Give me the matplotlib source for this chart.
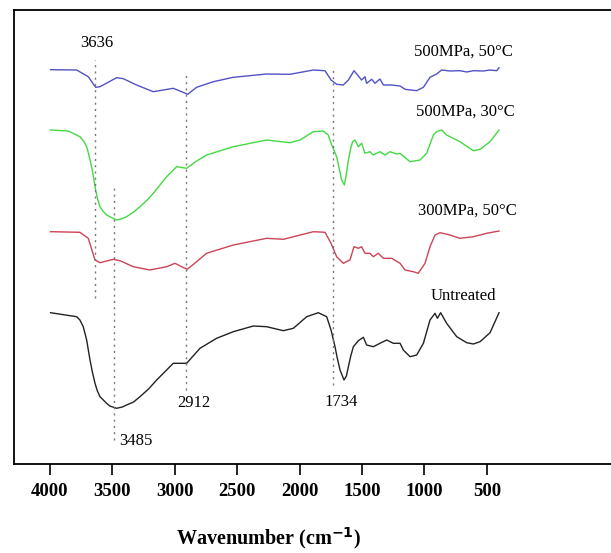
import matplotlib.pyplot as plt

plt.rcParams['font.family'] = ['Liberation Serif', 'DejaVu Serif']

# wavenumber (cm-1) and transmittance (a.u., offset stacked)
wn_blue = [3995, 3786, 3693, 3634, 3599, 3466, 3412, 3306, 3172, 3012, 2945, 2897, 2825, 2691,
           2531, 2264, 2077, 1890, 1796, 1748, 1703, 1650, 1609, 1564, 1529, 1503, 1476, 1463,
           1422, 1396, 1356, 1329, 1262, 1195, 1155, 1062, 1008, 955, 902, 862, 795, 715, 661,
           608, 528, 474, 421, 402]
t_blue = [394.3, 394.0, 387.3, 376.7, 377.3, 386.3, 385.3, 379.0, 372.3, 375.7, 372.3, 369.7,
          376.7, 382.3, 386.7, 390.0, 389.7, 394.0, 393.3, 384.0, 379.7, 379.0, 384.0, 393.3,
          388.0, 384.0, 387.3, 380.7, 384.7, 380.7, 385.0, 379.0, 379.0, 378.0, 374.7, 373.3,
          376.7, 386.7, 390.0, 394.0, 393.0, 393.3, 392.0, 393.3, 393.0, 394.0, 393.3, 396.3]

wn_green = [3995, 3853, 3760, 3730, 3706, 3690, 3666, 3650, 3634, 3616, 3599, 3570, 3546, 3500,
            3466, 3430, 3386, 3330, 3279, 3220, 3172, 3065, 2985, 2905, 2825, 2745, 2531, 2264,
            2077, 1997, 1890, 1810, 1770, 1748, 1703, 1690, 1663, 1641, 1625, 1609, 1590, 1575,
            1556, 1529, 1503, 1476, 1436, 1409, 1356, 1316, 1276, 1222, 1195, 1115, 1035, 982,
            928, 902, 862, 822, 715, 608, 554, 474, 402]
t_green = [334.0, 333.0, 327.3, 323.0, 317.3, 310.0, 297.3, 286.0, 274.0, 264.0, 257.3, 252.0,
           249.0, 246.0, 244.0, 245.0, 247.3, 252.0, 257.3, 264.0, 270.7, 287.3, 297.3, 295.7,
           303.0, 309.0, 317.3, 324.0, 321.3, 324.0, 332.3, 333.0, 329.0, 320.7, 307.3, 300.0,
           284.0, 279.0, 290.0, 304.0, 316.0, 322.3, 324.0, 317.3, 320.7, 310.7, 312.3, 309.0,
           312.3, 309.0, 312.3, 310.0, 310.7, 302.3, 304.0, 310.7, 329.0, 332.3, 334.0, 329.0,
           322.3, 313.3, 314.7, 322.3, 334.0]

wn_red = [3995, 3760, 3693, 3639, 3599, 3493, 3439, 3332, 3199, 3065, 2998, 2945, 2900, 2825,
          2745, 2531, 2264, 2130, 1890, 1796, 1748, 1703, 1650, 1596, 1564, 1529, 1503, 1476,
          1436, 1409, 1369, 1329, 1262, 1195, 1155, 1089, 1049, 995, 955, 915, 875, 795, 715,
          608, 501, 402]
t_red = [232.3, 231.7, 225.7, 204.0, 201.3, 204.7, 203.3, 197.3, 194.0, 197.3, 200.7, 197.3,
         194.7, 202.3, 210.7, 219.0, 225.7, 224.7, 232.3, 231.7, 220.7, 207.3, 200.7, 204.0,
         217.3, 215.7, 217.3, 210.7, 210.7, 207.3, 210.7, 205.7, 205.7, 200.7, 194.0, 192.3,
         190.7, 200.7, 217.3, 229.0, 231.3, 229.0, 225.7, 227.3, 230.7, 233.0]

wn_black = [3995, 3786, 3760, 3733, 3706, 3679, 3660, 3639, 3620, 3599, 3546, 3520, 3466, 3420,
            3386, 3330, 3279, 3210, 3145, 3012, 2905, 2798, 2665, 2531, 2371, 2264, 2130, 2050,
            1943, 1850, 1783, 1748, 1716, 1700, 1676, 1644, 1625, 1609, 1590, 1569, 1529, 1489,
            1463, 1409, 1356, 1302, 1249, 1195, 1169, 1115, 1062, 1008, 955, 915, 896, 870, 822,
            741, 661, 608, 554, 474, 402]
t_black = [151.3, 147.3, 144.0, 137.3, 124.0, 104.0, 92.0, 80.7, 73.0, 67.3, 60.7, 58.0, 55.7,
           57.0, 59.0, 62.0, 67.3, 75.0, 84.0, 100.7, 100.7, 115.7, 125.7, 132.3, 138.0, 137.3,
           133.3, 135.7, 147.3, 151.3, 147.3, 134.0, 117.3, 107.0, 94.0, 84.0, 88.0, 97.3,
           108.0, 117.3, 123.3, 126.7, 119.0, 117.3, 120.7, 124.0, 120.7, 120.7, 114.0, 107.3,
           109.0, 120.7, 144.0, 150.7, 145.7, 151.3, 140.7, 127.3, 121.3, 120.0, 122.3, 131.3,
           151.3]

# marked bands: wavenumber, bottom and top of its dotted line
bands = [3636, 3485, 2912, 1734]
band_lo = [166, 24, 74, 79]
band_hi = [404, 276, 391, 397]

series_labels = ['500MPa, 50°C', '500MPa, 30°C', '300MPa, 50°C', 'Untreated']
label_x = [691, 675, 659, 687]
label_y = [412, 352, 253, 168]

band_text = ['3636', '3485', '2912', '1734']
band_text_x = [3627, 3315, 2846, 1663]
band_text_y = [421, 23, 61, 62]

fig = plt.figure(figsize=(6.11, 5.53), dpi=100)
ax = fig.add_axes([14 / 611, (553 - 464) / 553, 597 / 611, 454 / 553])

ax.plot(wn_blue, t_blue, color='#5252c8', lw=1.0)
ax.plot(wn_green, t_green, color='#44d844', lw=1.0)
ax.plot(wn_red, t_red, color='#cc4455', lw=1.0)
ax.plot(wn_black, t_black, color='#222222', lw=1.0)

for b, lo, hi in zip(bands, band_lo, band_hi):
    ax.plot([b, b], [lo, hi], color='#777777', lw=1.0, ls=(0, (1.5, 3)))

for s, x, y in zip(series_labels, label_x, label_y):
    ax.text(x, y, s, fontsize=12, ha='center', va='center')
for s, x, y in zip(band_text, band_text_x, band_text_y):
    ax.text(x, y, s, fontsize=12, ha='center', va='center')

ax.set_xlim(4288, -495)
ax.set_ylim(0, 454)
ax.set_yticks([])
ax.set_xticks([4000, 3500, 3000, 2500, 2000, 1500, 1000, 500])
ax.tick_params(axis='x', direction='out', length=8, width=1.2, labelsize=13.5, pad=6)
for lab in ax.get_xticklabels():
    lab.set_fontweight('bold')
for side in ['left', 'bottom', 'top']:
    ax.spines[side].set_linewidth(1.3)
ax.spines['right'].set_visible(False)

fig.text(268 / 611, 1 - 538 / 553, 'Wavenumber (cm$^{\\mathbf{-1}}$)', fontsize=14.5,
         fontweight='bold', ha='center', va='center')

fig.savefig('out.png', dpi=100)
